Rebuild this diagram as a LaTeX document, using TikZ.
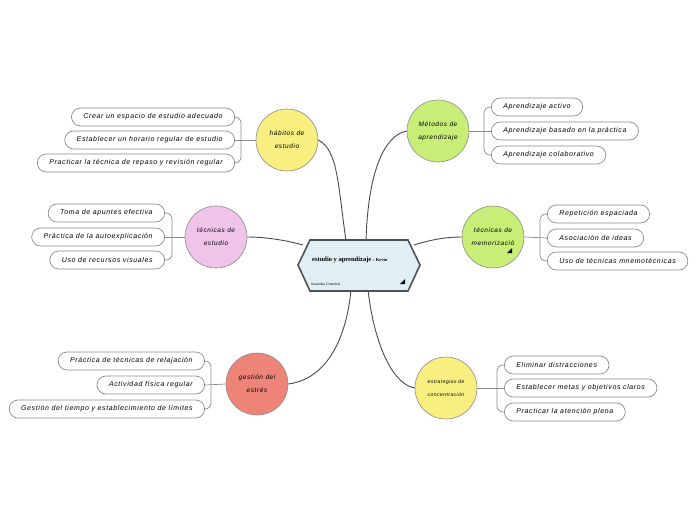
\documentclass[tikz,border=0pt]{standalone}
\usepackage{fontspec}
\setmainfont{Liberation Sans}
\newfontfamily\serifc{Liberation Serif}
\newfontfamily\wide[LetterSpace=9]{Liberation Sans}
\definecolor{cyel}{HTML}{F9EE80}
\definecolor{cgrn}{HTML}{C8EE78}
\definecolor{cpnk}{HTML}{EFC4E8}
\definecolor{cred}{HTML}{EE8478}
\definecolor{chex}{HTML}{E1EEF4}
\definecolor{chexb}{HTML}{4A5358}
\definecolor{cline}{HTML}{4A4A4A}
\definecolor{cleaf}{HTML}{8A8A8A}
\tikzset{
  topic/.style={circle, draw=cleaf, line width=0.6pt, minimum size=62pt, inner sep=1pt, align=center, font=\wide\itshape\fontsize{6.5}{13}\selectfont},
  leaf/.style={draw=cleaf, line width=0.7pt, fill=white, rounded corners=9pt, minimum height=18pt, inner xsep=12pt, inner ysep=0pt, font=\wide\itshape\fontsize{7}{8}\selectfont},
  conn/.style={draw=cline, line width=0.9pt},
  brk/.style={draw=cleaf, line width=0.7pt, rounded corners=6pt},
  tri/.style={fill=black}
}
\begin{document}
\begin{tikzpicture}[x=1pt,y=-1pt]
\useasboundingbox (0,0) rectangle (696,520);
\coordinate (cT1) at (346,241);
\coordinate (cT2) at (366,241);
\coordinate (cR) at (414,245);
\coordinate (cL) at (303,245);
\coordinate (cB1) at (351,290);
\coordinate (cB2) at (368,290);

\node[topic, fill=cyel] (hab) at (287,140) {hábitos de\\estudio};
\node[topic, fill=cgrn] (met) at (438,131) {Métodos de\\aprendizaje};
\node[topic, fill=cgrn] (mem) at (493,237) {técnicas de\\memorizació};
\node[topic, fill=cyel, font=\wide\itshape\fontsize{5}{13}\selectfont] (est) at (446,388) {estrategias de\\concentración};
\node[topic, fill=cpnk] (tec) at (216,237) {técnicas de\\estudio};
\node[topic, fill=cred] (ges) at (257,384) {gestión del\\estrés};

\draw[conn] (cT1) .. controls (338,185) and (338,150) .. (hab.east);
\draw[conn] (cT2) .. controls (368,170) and (385,135) .. (met.west);
\draw[conn] (cR) .. controls (430,240) and (445,237) .. (mem.west);
\draw[conn] (cL) .. controls (285,240) and (265,237) .. (tec.east);
\draw[conn] (cB1) .. controls (345,350) and (320,380) .. (ges.east);
\draw[conn] (cB2) .. controls (375,350) and (395,385) .. (est.west);

\draw[draw=chexb, fill=chex, line width=1.6pt] (310,240) -- (408,240) -- (420,265) -- (408,291) -- (310,291) -- (298,265) -- cycle;
\node[anchor=west, inner sep=0pt, font=\serifc\bfseries\fontsize{6.5}{7}\selectfont] (ctr) at (312,260) {estudio y aprendizaje {\fontsize{4.5}{5}\selectfont : Kevin}};
\node[anchor=west, inner sep=0pt, font=\serifc\fontsize{3.8}{4}\selectfont] (ctr2) at (311,284) {Saavedra Cristobal};
\fill[tri] (400,284) -- (405,279) -- (405,284) -- cycle;
\fill[tri] (507,253) -- (512,248) -- (512,253) -- cycle;

\node[leaf, anchor=east] (h1) at (235,117) {Crear un espacio de estudio adecuado};
\node[leaf, anchor=east] (h2) at (235,140) {Establecer un horario regular de estudio};
\node[leaf, anchor=east] (h3) at (235,163) {Practicar la técnica de repaso y revisión regular};
\draw[brk] (h1.east) -- (241,117) -- (241,163) -- (h3.east);
\draw[brk] (h2.east) -- (hab.west);

\node[leaf, anchor=east] (t1) at (165,213) {Toma de apuntes efectiva};
\node[leaf, anchor=east] (t2) at (165,237) {Práctica de la autoexplicación};
\node[leaf, anchor=east] (t3) at (165,260) {Uso de recursos visuales};
\draw[brk] (t1.east) -- (172,213) -- (172,260) -- (t3.east);
\draw[brk] (t2.east) -- (tec.west);

\node[leaf, anchor=east] (g1) at (205,361) {Práctica de técnicas de relajación};
\node[leaf, anchor=east] (g2) at (205,385) {Actividad física regular};
\node[leaf, anchor=east] (g3) at (205,409) {Gestión del tiempo y establecimiento de límites};
\draw[brk] (g1.east) -- (211,361) -- (211,409) -- (g3.east);
\draw[brk] (g2.east) -- (ges.west);

\node[leaf, anchor=west] (m1) at (491,107) {Aprendizaje activo};
\node[leaf, anchor=west] (m2) at (491,131) {Aprendizaje basado en la práctica};
\node[leaf, anchor=west] (m3) at (491,155) {Aprendizaje colaborativo};
\draw[brk] (m1.west) -- (484,107) -- (484,155) -- (m3.west);
\draw[brk] (m2.west) -- (met.east);

\node[leaf, anchor=west] (r1) at (547,214) {Repetición espaciada};
\node[leaf, anchor=west] (r2) at (547,238) {Asociación de ideas};
\node[leaf, anchor=west] (r3) at (547,261) {Uso de técnicas mnemotécnicas};
\draw[brk] (r1.west) -- (540,214) -- (540,261) -- (r3.west);
\draw[brk] (r2.west) -- (mem.east);

\node[leaf, anchor=west] (e1) at (504,365) {Eliminar distracciones};
\node[leaf, anchor=west] (e2) at (504,388) {Establecer metas y objetivos claros};
\node[leaf, anchor=west] (e3) at (504,412) {Practicar la atención plena};
\draw[brk] (e1.west) -- (497,365) -- (497,412) -- (e3.west);
\draw[brk] (e2.west) -- (est.east);
\end{tikzpicture}
\end{document}
